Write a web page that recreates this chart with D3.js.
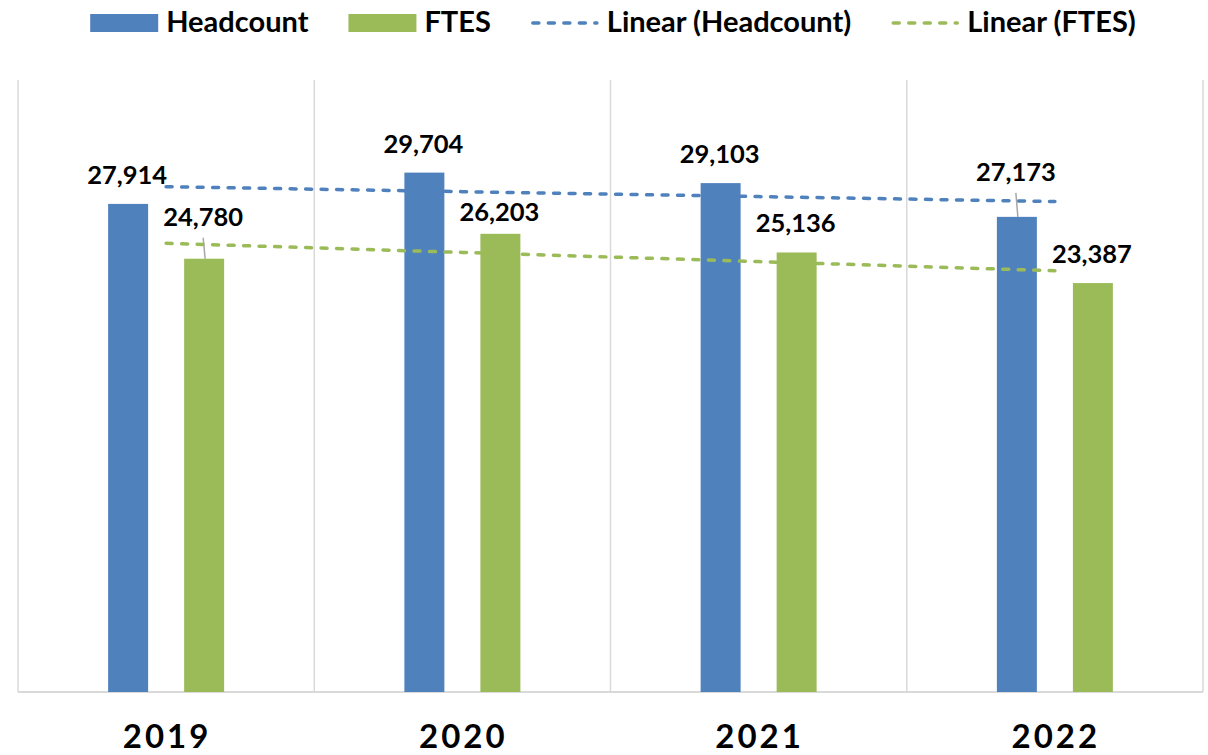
<!DOCTYPE html>
<html>
<head>
<meta charset="utf-8">
<script src="https://cdn.jsdelivr.net/npm/d3@7"></script>
<style>
  body { margin: 0; background: #fff; }
  svg { display: block; }
</style>
</head>
<body>
<div id="chart"></div>
<script>
// chart data
var years = ["2019", "2020", "2021", "2022"];
var seriesNames = ["Headcount", "FTES"];
var headcount = [27914, 29704, 29103, 27173];
var ftes = [24780, 26203, 25136, 23387];
var trendNames = ["Linear (Headcount)", "Linear (FTES)"];

var width = 1208, height = 755;
var plot = {left: 18, right: 1203, top: 80, bottom: 692};
var colors = {Headcount: "#4f81bd", FTES: "#9bbb59"};
var labelFont = "Lato, 'Open Sans', sans-serif";

var svg = d3.select("#chart").append("svg")
    .attr("width", width)
    .attr("height", height);

var x = d3.scaleBand()
    .domain(years)
    .range([plot.left, plot.right]);

var xInner = d3.scaleBand()
    .domain(seriesNames)
    .range([-58, 58])
    .paddingInner(0.474);

var y = d3.scaleLinear()
    .domain([0, 35000])
    .range([plot.bottom, plot.top]);

var values = {Headcount: headcount, FTES: ftes};

// vertical gridlines at category edges
var edges = years.map(function(d) { return x(d); }).concat([plot.right]);
svg.append("g")
    .selectAll("line")
    .data(edges)
    .enter()
    .append("line")
    .attr("x1", d => d).attr("x2", d => d)
    .attr("y1", plot.top).attr("y2", plot.bottom)
    .style("stroke", "#d9d9d9")
    .style("stroke-width", 1.5);

// bottom axis line
svg.append("line")
    .attr("x1", plot.left).attr("x2", plot.right)
    .attr("y1", plot.bottom).attr("y2", plot.bottom)
    .style("stroke", "#d9d9d9")
    .style("stroke-width", 2);

// bars
var bars = [];
seriesNames.forEach(function(s) {
    years.forEach(function(yr, i) {
        bars.push({series: s, year: yr, value: values[s][i]});
    });
});

svg.append("g")
    .selectAll("rect")
    .data(bars)
    .enter()
    .append("rect")
    .attr("x", d => x(d.year) + x.bandwidth() / 2 + xInner(d.series))
    .attr("width", xInner.bandwidth())
    .attr("y", d => y(d.value))
    .attr("height", d => plot.bottom - y(d.value))
    .style("fill", d => colors[d.series]);

// linear trend lines (least squares over x = 1..n)
function trend(vals) {
    var n = vals.length;
    var xs = d3.range(1, n + 1);
    var mx = d3.mean(xs), my = d3.mean(vals);
    var num = d3.sum(xs, (xi, i) => (xi - mx) * (vals[i] - my));
    var den = d3.sum(xs, xi => (xi - mx) * (xi - mx));
    var slope = num / den;
    return xs.map(xi => my + slope * (xi - mx));
}

var trendLine = d3.line()
    .x((d, i) => x(years[i]) + x.bandwidth() / 2)
    .y(d => y(d));

seriesNames.forEach(function(s) {
    svg.append("path")
        .datum(trend(values[s]))
        .attr("d", trendLine)
        .style("fill", "none")
        .style("stroke", colors[s])
        .style("stroke-width", 3.5)
        .style("stroke-linecap", "round")
        .style("stroke-dasharray", "6,9.5");
});

// data labels, a few nudged like the original
var nudge = {"FTES2019": -13, "Headcount2022": -16, "FTES2020": 7};
var leaders = {"FTES2019": true, "Headcount2022": true};

var labels = svg.append("g");
bars.forEach(function(d) {
    var key = d.series + d.year;
    var cx = x(d.year) + x.bandwidth() / 2 + xInner(d.series) + xInner.bandwidth() / 2;
    var by = y(d.value) - 20 + (nudge[key] || 0);
    if (leaders[key]) {
        labels.append("line")
            .attr("x1", cx - 1).attr("y1", by + 12)
            .attr("x2", cx + 1).attr("y2", y(d.value))
            .style("stroke", "#a6a6a6")
            .style("stroke-width", 1.5);
    }
    labels.append("text")
        .attr("x", cx - 1)
        .attr("y", by)
        .attr("text-anchor", "middle")
        .style("font-family", labelFont)
        .style("font-weight", "bold")
        .style("font-size", "25.5px")
        .style("fill", "#000")
        .text(d3.format(",")(d.value));
});

// category labels
svg.append("g")
    .selectAll("text")
    .data(years)
    .enter()
    .append("text")
    .attr("x", d => x(d) + x.bandwidth() / 2 + 1)
    .attr("y", 748)
    .attr("text-anchor", "middle")
    .style("font-family", labelFont)
    .style("font-weight", "bold")
    .style("font-size", "33px")
    .style("letter-spacing", "3px")
    .text(d => d);

// legend
var legendItems = [
    {name: seriesNames[0], color: colors.Headcount, type: "rect"},
    {name: seriesNames[1], color: colors.FTES, type: "rect"},
    {name: trendNames[0], color: colors.Headcount, type: "line"},
    {name: trendNames[1], color: colors.FTES, type: "line"}
];

var legend = svg.append("g");
var lx = 0;
legendItems.forEach(function(item, i) {
    var g = legend.append("g").attr("transform", "translate(" + lx + ",0)");
    if (item.type == "rect") {
        g.append("rect")
            .attr("x", 0).attr("y", 14)
            .attr("width", 68).attr("height", 18)
            .style("fill", item.color);
    } else {
        g.append("line")
            .attr("x1", 2).attr("x2", 66)
            .attr("y1", 23).attr("y2", 23)
            .style("stroke", item.color)
            .style("stroke-width", 3.5)
            .style("stroke-linecap", "round")
            .style("stroke-dasharray", "6,9.5");
    }
    var t = g.append("text")
        .attr("x", 76)
        .attr("y", 32)
        .style("font-family", labelFont)
        .style("font-weight", "bold")
        .style("font-size", "29px")
        .text(item.name);
    lx += 76 + t.node().getComputedTextLength() + 40;
});
var legendWidth = lx - 40;
legend.attr("transform", "translate(" + (613 - legendWidth / 2) + ",0)");
</script>
</body>
</html>
